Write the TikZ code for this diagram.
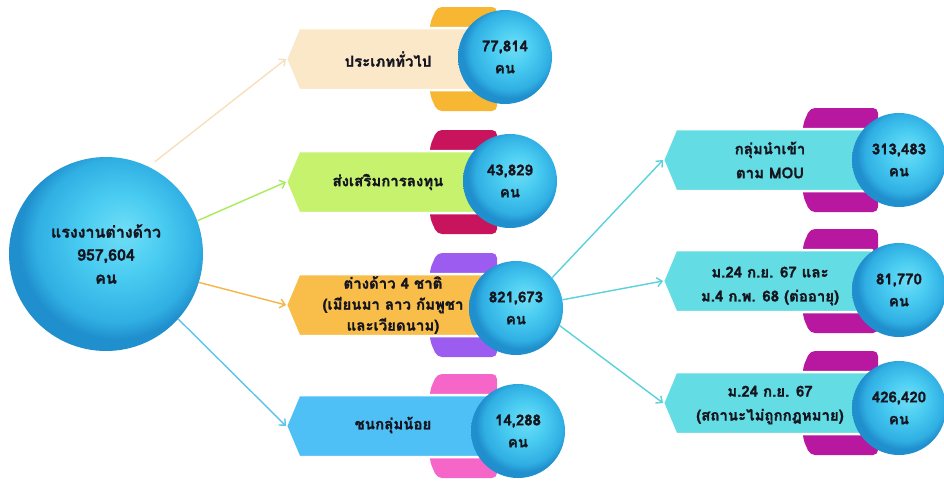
\documentclass[tikz,border=0pt]{standalone}
\usepackage{fontspec}
\newfontfamily\thai[Script=Thai, FakeBold=1.3]{Loma}
\usetikzlibrary{arrows.meta}
\definecolor{ink}{HTML}{15151F}
\definecolor{gA}{HTML}{70DEF6}
\definecolor{gB}{HTML}{48CBF1}
\definecolor{gC}{HTML}{30AFE3}
\definecolor{gD}{HTML}{208FCD}
\definecolor{fA}{HTML}{FBE8C8}
\definecolor{tA}{HTML}{F7B733}
\definecolor{fB}{HTML}{C6F26E}
\definecolor{tB}{HTML}{C8145C}
\definecolor{fC}{HTML}{F9BE4A}
\definecolor{tC}{HTML}{9D5CF0}
\definecolor{fD}{HTML}{4FC0F5}
\definecolor{tD}{HTML}{F566C8}
\definecolor{fE}{HTML}{64DCE3}
\definecolor{tE}{HTML}{B8179F}
\definecolor{cA}{HTML}{F8DFBD}
\definecolor{cB}{HTML}{A9EB5A}
\definecolor{cC}{HTML}{F6B548}
\definecolor{cD}{HTML}{5CC3EE}
\definecolor{cE}{HTML}{5AD2DC}
\pgfdeclareradialshading{glossy}{\pgfpoint{5bp}{6bp}}{color(0bp)=(gA); color(11bp)=(gB); color(21bp)=(gC); color(25bp)=(gD); color(50bp)=(gD)}
% tab bracket: #1 left x, #2 right x, #3 centre y, #4 colour
\newcommand\tabbr[4]{\fill[#4, rounded corners=5pt] (#1+7,#3-52) -- (#2,#3-52) -- (#2,#3+52) -- (#1+7,#3+52) -- (#1,#3+36) -- (#1,#3-36) -- cycle;}
% box: #1 tip x, #2 centre y, #3 right x, #4 fill, #5 tip name
\newcommand\hbx[5]{\filldraw[fill=#4, draw=white, line width=2.5pt, line join=round] (#1,#2) -- (#1+13,#2-31) -- (#3,#2-31) -- (#3,#2+31) -- (#1+13,#2+31) -- cycle;
\coordinate (#5) at (#1,#2);}
\begin{document}
\begin{tikzpicture}[x=1pt,y=-1pt,
  sph/.style={circle, shading=glossy, minimum size=#1, inner sep=0pt, align=center, text=ink, font=\thai\bfseries\fontsize{15}{22}\selectfont},
  sph/.default=94pt,
  lbl/.style={align=center, text=ink, font=\thai\bfseries\fontsize{15}{21}\selectfont, inner sep=0pt},
  conn/.style={line width=1.4pt, -{Straight Barb[length=5pt,width=9pt]}}]
\useasboundingbox (0,0) rectangle (944,482);
\fill[white] (0,0) rectangle (944,482);
% brackets
\tabbr{430}{497}{59}{tA}
\tabbr{430}{497}{182}{tB}
\tabbr{430}{497}{305}{tC}
\tabbr{430}{497}{426}{tD}
\tabbr{803}{878}{160}{tE}
\tabbr{803}{878}{281}{tE}
\tabbr{803}{878}{403}{tE}
% boxes
\hbx{286}{59}{492}{fA}{p1}
\hbx{286}{182}{492}{fB}{p2}
\hbx{286}{305}{492}{fC}{p3}
\hbx{286}{426}{492}{fD}{p4}
\hbx{663}{160}{872}{fE}{q1}
\hbx{663}{281}{872}{fE}{q2}
\hbx{663}{403}{872}{fE}{q3}
% box labels
\node[lbl] (l1) at (388,59) {ประเภททั่วไป};
\node[lbl] (l2) at (388,182) {ส่งเสริมการลงทุน};
\node[lbl] (l3) at (393,305) {ต่างด้าว 4 ชาติ\\(เมียนมา ลาว กัมพูชา\\และเวียดนาม)};
\node[lbl] (l4) at (393,425) {ชนกลุ่มน้อย};
\node[lbl, font=\thai\bfseries\fontsize{15}{24}\selectfont] (m1) at (770,160) {กลุ่มนำเข้า\\ตาม MOU};
\node[lbl, font=\thai\bfseries\fontsize{15}{24}\selectfont] (m2) at (770,286) {ม.24 ก.ย. 67 และ\\ม.4 ก.พ. 68 (ต่ออายุ)};
\node[lbl, font=\thai\bfseries\fontsize{15}{24}\selectfont] (m3) at (770,405) {ม.24 ก.ย. 67\\(สถานะไม่ถูกกฎหมาย)};
% circles
\node[sph=194pt, font=\thai\bfseries\fontsize{16}{23}\selectfont] (big) at (106,254) {แรงงานต่างด้าว\\957,604\\คน};
\node[sph] (c1) at (505,57) {77,814\\คน};
\node[sph] (c2) at (510,181) {43,829\\คน};
\node[sph] (c3) at (516,308) {821,673\\คน};
\node[sph] (c4) at (518,431) {14,288\\คน};
\node[sph] (d1) at (899,160) {313,483\\คน};
\node[sph] (d2) at (899,290) {81,770\\คน};
\node[sph] (d3) at (899,408) {426,420\\คน};
% connectors
\draw[conn, cA, shorten <=8pt] (big.64) -- (p1);
\draw[conn, cB] (big.20) -- (p2);
\draw[conn, cC] (big.-17) -- (p3);
\draw[conn, cD] (big.-42) -- (p4);
\draw[conn, cE] (c3.40) -- (q1);
\draw[conn, cE] (c3.10) -- (q2);
\draw[conn, cE] (c3.-22) -- (q3);
\end{tikzpicture}
\end{document}
